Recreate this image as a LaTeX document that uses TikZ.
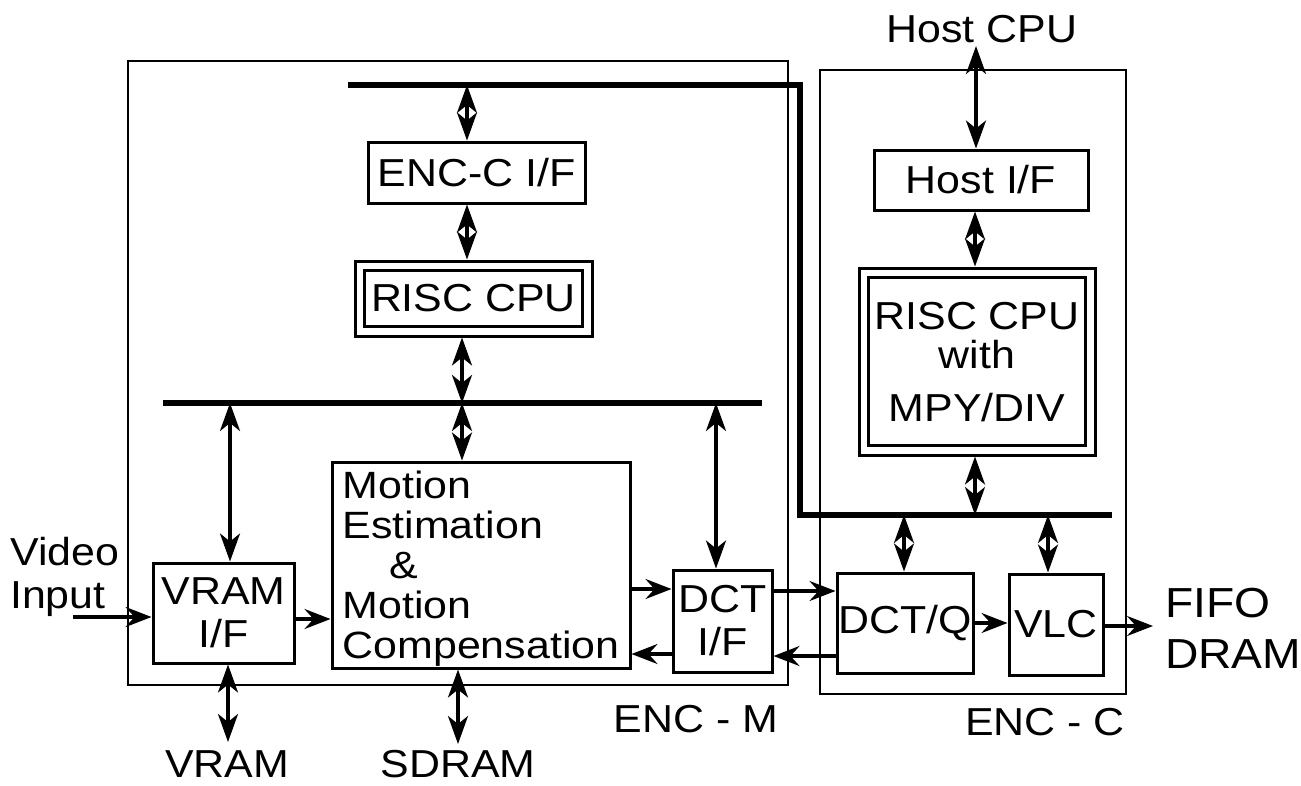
\documentclass[tikz,border=0pt]{standalone}
\usepackage{fontspec}
\setmainfont{Liberation Sans}[FakeStretch=1.1]
\newfontfamily\widefont{Liberation Sans}[FakeStretch=1.13]
\usetikzlibrary{arrows.meta,calc}

\begin{document}
\begin{tikzpicture}[x=1pt,y=-1pt,
  font=\fontsize{39}{43}\selectfont,
  blk/.style={draw, line width=3pt, inner sep=0pt, align=center},
  frame/.style={draw, line width=2pt},
  bus/.style={line width=6.5pt},
  arr/.style={line width=3.2pt, -{Stealth[length=26pt,width=20pt,inset=9pt]}},
  dbl/.style={line width=3.2pt, {Stealth[length=28pt,width=20pt,inset=8pt]}-{Stealth[length=28pt,width=20pt,inset=8pt]}},
  lbl/.style={inner sep=0pt, anchor=base},
  lblw/.style={inner sep=0pt, anchor=base west}]

\useasboundingbox (0,0) rectangle (1301,785);

% chip outlines
\draw[frame] (128,61) rectangle (788,685);
\draw[frame] (820,70) rectangle (1126,694);
\node[lbl] (encm) at (696,732) {ENC - M};
\node[lbl] (encc) at (1045,735) {ENC - C};

% functional blocks
\node[blk, minimum width=217pt, minimum height=61pt] (encif) at (476.5,172.5) {ENC-C I/F};
\node[blk, minimum width=237pt, minimum height=75pt] (riscL) at (473.5,298.5) {RISC CPU};
\draw[line width=2.6pt] ($(riscL.north west)+(11,11)$) rectangle ($(riscL.south east)+(-11,-11)$);
\node[blk, minimum width=298pt, minimum height=206pt, text depth=0pt,
      font=\widefont\fontsize{38}{40}\selectfont, align=left] (motion) at (481,565)
      {Motion\\Estimation\\\hspace*{47pt}\&\\Motion\\Compensation};
\node[blk, minimum width=141pt, minimum height=100pt] (vramif) at (223.5,613) {VRAM\\I/F};
\node[blk, minimum width=99pt, minimum height=102pt] (dctif) at (722.5,621) {DCT\\I/F};
\node[blk, minimum width=136pt, minimum height=100pt] (dctq) at (905,623) {DCT/Q};
\node[blk, minimum width=94pt, minimum height=101pt] (vlc) at (1056,624.5) {VLC};
\node[blk, minimum width=214pt, minimum height=60pt] (hostif) at (981,180) {Host I/F};
\node[blk, minimum width=236pt, minimum height=187pt, text depth=0pt,
      font=\fontsize{39}{43}\selectfont] (riscR) at (977,361.5) {RISC CPU\\[-4pt]with\\[10pt]MPY/DIV};
\draw[line width=2.6pt] ($(riscR.north west)+(11,11)$) rectangle ($(riscR.south east)+(-11,-11)$);

% external labels
\node[lbl] (hostcpu) at (982,42) {Host CPU};
\node[lbl] (vram) at (227,777) {VRAM};
\node[lbl] (sdram) at (458,777) {SDRAM};
\node[lblw] (video) at (10,565) {Video};
\node[lblw] (input) at (10,608) {Input};
\node[lblw, font=\fontsize{42}{46}\selectfont] (fifo) at (1165,617) {FIFO};
\node[lblw, font=\fontsize{42}{46}\selectfont] (dram) at (1165,668) {DRAM};

% bus and level coordinates
\coordinate (tb1) at (348,85);
\coordinate (tb2) at (800,85);
\coordinate (tb3) at (800,515);
\coordinate (tb4) at (1112,515);
\coordinate (mb1) at (163,403);
\coordinate (mb2) at (762,403);
\coordinate (vin) at (73,617);
\coordinate (vout) at (1153,626);
\coordinate (yin) at (0,617);
\coordinate (yvm) at (0,619);
\coordinate (ymd) at (0,589);
\coordinate (ydm) at (0,654);
\coordinate (ydq) at (0,591);
\coordinate (yqd) at (0,656);
\coordinate (yql) at (0,623);
\coordinate (yhc) at (0,46);
\coordinate (yvr) at (0,742);
\coordinate (ysd) at (0,744);

% connectors
\draw[dbl] ([xshift=-9.5pt]encif.north) -- ([xshift=-9.5pt]encif.north |- tb1);
\draw[dbl] ([xshift=-9.5pt]encif.south) -- ([xshift=-9.5pt]encif.south |- riscL.north);
\draw[dbl] ([xshift=-11.5pt]riscL.south) -- ([xshift=-11.5pt]riscL.south |- mb1);
\draw[dbl] ([xshift=-19pt]motion.north) -- ([xshift=-19pt]motion.north |- mb1);
\draw[dbl] ([xshift=6.5pt]vramif.north) -- ([xshift=6.5pt]vramif.north |- mb1);
\draw[dbl] ([xshift=-6.5pt]dctif.north) -- ([xshift=-6.5pt]dctif.north |- mb1);

\draw[arr] (vin) -- (vramif.west |- yin);
\draw[arr] (vramif.east |- yvm) -- (motion.west |- yvm);
\draw[arr] (motion.east |- ymd) -- (dctif.west |- ymd);
\draw[arr] (dctif.west |- ydm) -- (motion.east |- ydm);
\draw[arr] (dctif.east |- ydq) -- (dctq.west |- ydq);
\draw[arr] (dctq.west |- yqd) -- (dctif.east |- yqd);
\draw[arr] (dctq.east |- yql) -- (vlc.west |- yql);
\draw[arr] (vlc.east |- vout) -- (vout);

\draw[dbl] ([xshift=-1pt]dctq.north) -- ([xshift=-1pt]dctq.north |- tb3);
\draw[dbl] ([xshift=-8pt]vlc.north) -- ([xshift=-8pt]vlc.north |- tb3);
\draw[dbl] ([xshift=-2pt]riscR.south) -- ([xshift=-2pt]riscR.south |- tb3);
\draw[dbl] ([xshift=-6pt]hostif.south) -- ([xshift=-6pt]hostif.south |- riscR.north);
\draw[dbl] ([xshift=-5pt]hostif.north) -- ([xshift=-5pt]hostif.north |- yhc);

\draw[dbl] ([xshift=4.5pt]vramif.south) -- ([xshift=4.5pt]vramif.south |- yvr);
\draw[dbl] ([xshift=-23pt]motion.south) -- ([xshift=-23pt]motion.south |- ysd);

% buses
\draw[bus] (tb1) -- (tb2) -- (tb3) -- (tb4);
\draw[bus] (mb1) -- (mb2);
\end{tikzpicture}
\end{document}
